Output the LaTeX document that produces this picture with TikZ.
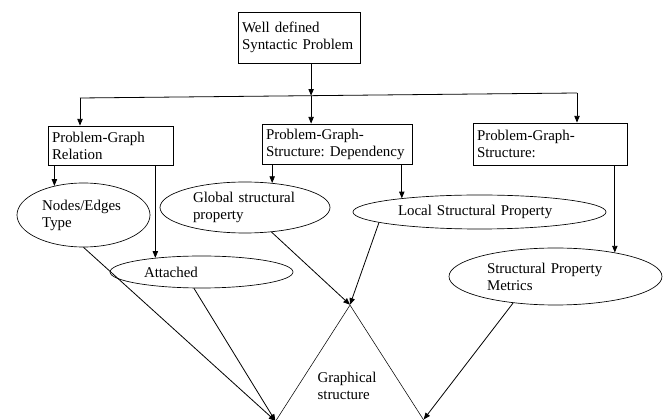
\documentclass[tikz,border=0pt]{standalone}
\usepackage{fontspec}
\setmainfont{Liberation Serif}
\usetikzlibrary{
  arrows.meta,
  shapes.geometric,
  calc
}

\begin{document}
\begin{tikzpicture}[
  x=0.75pt, y=-0.75pt,
  >={Triangle[length=5pt,width=4pt]},
  line width=0.6pt,
  every node/.style={font=\fontsize{11.2}{12.75}\selectfont},
  box/.style={
    rectangle, draw, align=left,
    inner xsep=3pt, inner ysep=0pt
  },
  oval/.style={
    ellipse, draw, line width=0.5pt, align=left, inner sep=0pt
  }
]
\useasboundingbox (0,0) rectangle (665,420);
\clip (0,0) rectangle (665,420);

\node[box, text width=85.5pt, minimum height=38.25pt] (wds) at (299,37.5)
  {Well defined\\Syntactic~Problem};
\node[box, text width=87.75pt, minimum height=29.25pt] (prel) at (110.5,145.5)
  {Problem-Graph\\Relation};
\node[box, text width=106.5pt, minimum height=30pt] (pgsd) at (337,144)
  {Problem-Graph-\\Structure:~Dependency};
\node[box, text width=109.5pt, minimum height=31.5pt] (pgs) at (550,144)
  {Problem-Graph-\\Structure:};

\node[oval, text width=62pt, minimum width=99.75pt, minimum height=48pt]
  (nodes) at (83.5,215) {Nodes/Edges\\Type};
\node[oval, text width=86.25pt, minimum width=137.25pt, minimum height=24pt]
  (attached) at (201.5,272) {Attached};
\node[oval, text width=78pt, minimum width=127.5pt, minimum height=38.25pt]
  (global) at (245,207.5) {Global~structural\\property};
\node[oval, text width=122.25pt, minimum width=189.75pt, minimum height=25.5pt]
  (local) at (479.5,212) {Local Structural Property};
\node[oval, text width=102.75pt, minimum width=159.75pt, minimum height=42.75pt]
  (metrics) at (555.5,276.5) {Structural Property\\Metrics};

\node[diamond, draw, line width=0.4pt, inner sep=0pt,
  minimum width=139.5pt, minimum height=217.5pt] (gstruct) at (350,450) {};
\node[align=left] (glabel) at (347,386) {Graphical\\structure};

\coordinate (hl) at (80,98);
\coordinate (hr) at (577,93);
\coordinate (split) at ($(hl)!0.465!(hr)$);
\coordinate (gsleft) at ($(gstruct.north)!0.8!(gstruct.west)$);
\coordinate (gsright) at ($(gstruct.north)!0.79!(gstruct.east)$);

\draw[->] (wds.south -| split) -- (split);
\draw (hl) -- (hr);
\draw[->] (hl) -- (hl |- prel.north);
\draw[->] (split) -- (split |- pgsd.north);
\draw[->] (hr) -- (hr |- pgs.north);

\draw[->] (prel.south -| nodes.135) -- (nodes.135);
\draw[->] (prel.south -| attached.163) -- (attached.163);
\draw[->] (pgsd.south -| global.42) -- (global.42);
\draw[->] (pgsd.south -| local.170) -- (local.170);
\draw[->] (pgs.south -| metrics.22) -- (metrics.22);

\draw[->] (global) -- (gstruct.north);
\draw[->] (local.186) -- (gstruct.north);
\draw[->] (nodes.south) -- (gsleft);
\draw[->] (attached.245) -- (gsleft);
\draw[->] (metrics.212) -- (gsright);

\end{tikzpicture}
\end{document}
